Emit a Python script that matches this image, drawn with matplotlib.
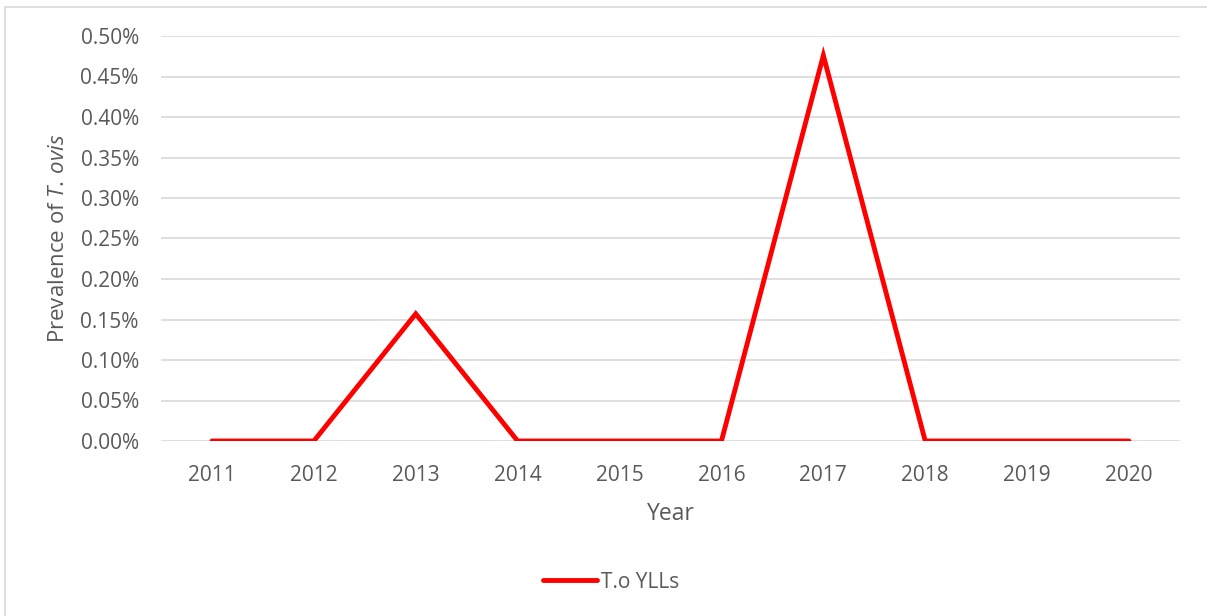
import matplotlib
matplotlib.use("Agg")
import matplotlib.pyplot as plt
from matplotlib.patches import Rectangle
from matplotlib.ticker import FuncFormatter, MultipleLocator

plt.rcParams['font.family'] = ['Open Sans', 'DejaVu Sans']
plt.rcParams['mathtext.fontset'] = 'custom'
plt.rcParams['mathtext.rm'] = 'Open Sans'
plt.rcParams['mathtext.it'] = 'Open Sans:italic'

years = ["2011", "2012", "2013", "2014", "2015", "2016", "2017", "2018", "2019", "2020"]
prevalence = [0.0, 0.0, 0.157, 0.0, 0.0, 0.0, 0.476, 0.0, 0.0, 0.0]  # percent
series_name = "T.o YLLs"

TEXT = "#595959"
GRID = "#d9d9d9"

fig = plt.figure(figsize=(12.07, 6.16), dpi=100)
fig.patch.set_facecolor("white")

# outer chart-area frame
fig.add_artist(Rectangle((4.5 / 1207, -0.01), 1.05, 1 - 6.5 / 616 + 0.01,
                         transform=fig.transFigure, fill=False,
                         edgecolor=GRID, linewidth=1.2))

ax = fig.add_axes([161 / 1207, 1 - 441 / 616, (1180 - 161) / 1207, (441 - 36) / 616])
x = list(range(len(years)))
ax.plot(x, prevalence, color="#ff0000", linewidth=3.5,
        solid_capstyle="round", solid_joinstyle="miter", label=series_name, zorder=3)

ax.set_xlim(-0.5, len(years) - 0.5)
ax.set_ylim(0, 0.5)
ax.yaxis.set_major_locator(MultipleLocator(0.05))
ax.yaxis.set_major_formatter(FuncFormatter(lambda v, p: f"{v:.2f}%"))
ax.set_xticks(x)
ax.set_xticklabels(years)

ax.grid(axis="y", color=GRID, linewidth=1.2)
ax.set_axisbelow(True)
for s in ax.spines.values():
    s.set_visible(False)
ax.tick_params(axis="both", length=0, colors=TEXT, labelsize=15)
ax.tick_params(axis="x", pad=17)
ax.tick_params(axis="y", pad=16)

ax.set_xlabel("Year", color=TEXT, fontsize=16.5, labelpad=12)
ax.set_ylabel(r"Prevalence of $\it{T.\,ovis}$", color=TEXT, fontsize=16, labelpad=8)

leg = fig.legend(loc="center", bbox_to_anchor=(611 / 1207, 1 - 582 / 616),
                 frameon=False, fontsize=15, handlelength=2.6, handletextpad=0.2)
for t in leg.get_texts():
    t.set_color(TEXT)

fig.savefig("out.png", dpi=100, facecolor="white")
